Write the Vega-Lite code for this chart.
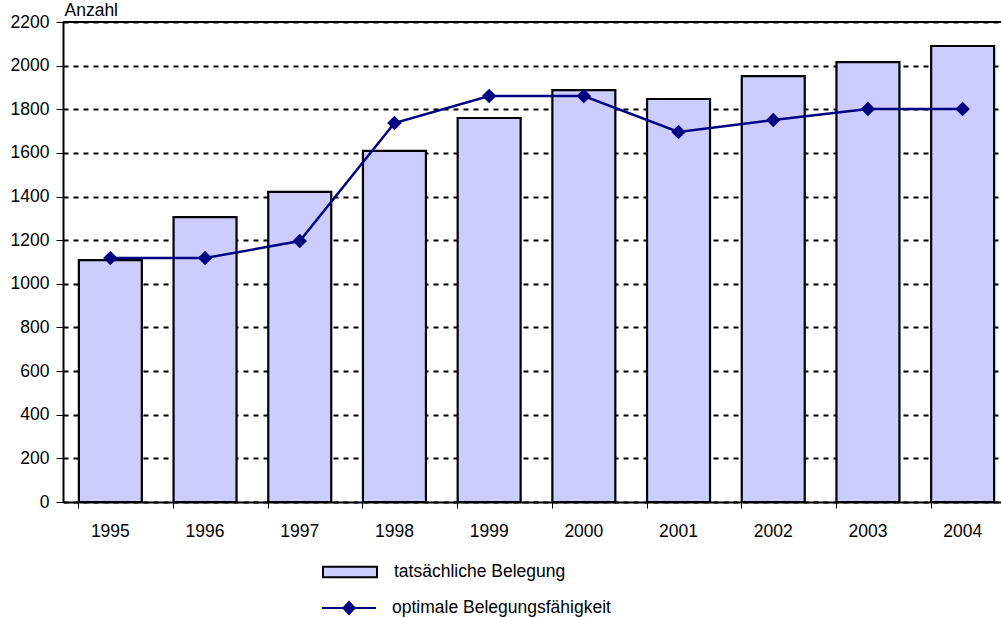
{
  "$schema": "https://vega.github.io/schema/vega-lite/v6.json",
  "autosize": "none",
  "width": 938,
  "height": 480,
  "padding": {"left": 63, "top": 22, "right": 0, "bottom": 116},
  "background": "white",
  "config": {
    "view": {"stroke": null},
    "font": "Liberation Sans",
    "axis": {"labelFont": "Liberation Sans", "titleFont": "Liberation Sans", "labelColor": "black", "titleColor": "black", "labelFontSize": 17.5, "titleFontSize": 17.5, "titleFontWeight": "normal"},
    "legend": {"labelFont": "Liberation Sans", "labelFontSize": 17.5, "labelColor": "black", "padding": 0, "labelLimit": 500}
  },
  "data": {"values": [
    {"jahr": "1995", "belegung": 1109, "optimal": 1118},
    {"jahr": "1996", "belegung": 1306, "optimal": 1118},
    {"jahr": "1997", "belegung": 1421, "optimal": 1196},
    {"jahr": "1998", "belegung": 1609, "optimal": 1737},
    {"jahr": "1999", "belegung": 1760, "optimal": 1861},
    {"jahr": "2000", "belegung": 1888, "optimal": 1861},
    {"jahr": "2001", "belegung": 1847, "optimal": 1696},
    {"jahr": "2002", "belegung": 1952, "optimal": 1751},
    {"jahr": "2003", "belegung": 2016, "optimal": 1801},
    {"jahr": "2004", "belegung": 2090, "optimal": 1801}
  ]},
  "encoding": {
    "x": {"field": "jahr", "type": "nominal", "sort": null,
      "scale": {"range": [0, 947], "paddingInner": 0.335, "paddingOuter": 0.1675},
      "axis": {"title": null, "labelAngle": 0, "bandPosition": 0, "domainColor": "black", "domainWidth": 2, "tickColor": "black", "tickWidth": 1, "tickSize": 6, "labelPadding": 23, "labelBaseline": "middle", "labelFontSize": 17.5, "grid": false}
    }
  },
  "layer": [
    {
      "mark": {"type": "bar", "stroke": "black", "strokeWidth": 2.2},
      "encoding": {
        "y": {"field": "belegung", "type": "quantitative",
          "scale": {"domain": [0, 2200]},
          "axis": {"title": "Anzahl", "titleAngle": 0, "titleX": 1, "titleY": -3, "titleAlign": "left", "titleBaseline": "bottom", "titleFontSize": 17.5,
            "values": [0, 200, 400, 600, 800, 1000, 1200, 1400, 1600, 1800, 2000, 2200], "format": "d", "labelFontSize": 17.5,
            "domainColor": "black", "domainWidth": 2, "tickColor": "black", "tickWidth": 1, "tickSize": 7, "labelPadding": 7,
            "grid": true, "gridColor": "black", "gridWidth": 2, "gridDash": [5, 5]}
        },
        "fill": {"datum": "tatsächliche Belegung", "type": "nominal",
          "scale": {"range": ["#CCCCFF"]},
          "legend": {"title": null, "orient": "none", "legendX": 259, "legendY": 522,
            "symbolType": "M-1,-0.19H1V0.19H-1Z", "symbolSize": 2916, "symbolStrokeColor": "black", "symbolStrokeWidth": 2, "symbolOpacity": 1, "labelOffset": 16, "labelFontSize": 17.5}
        }
      }
    },
    {
      "mark": {"type": "rule", "color": "black", "strokeWidth": 2},
      "encoding": {"y": {"datum": 2200, "type": "quantitative"}, "x": {"value": 0}, "x2": {"value": 938}}
    },
    {
      "mark": {"type": "line", "color": "#000080", "strokeWidth": 2.5},
      "encoding": {"y": {"field": "optimal", "type": "quantitative"}}
    },
    {
      "mark": {"type": "point", "shape": "diamond", "filled": true, "size": 210, "opacity": 1, "color": "#000080"},
      "encoding": {
        "y": {"field": "optimal", "type": "quantitative"},
        "fill": {"datum": "optimale Belegungsfähigkeit", "type": "nominal",
          "scale": {"range": ["#000080"]},
          "legend": {"title": null, "orient": "none", "legendX": 259, "legendY": 559,
            "symbolType": "M-1,-0.035H1V0.035H-1Z M-0.26,0L0,-0.28L0.26,0L0,0.28Z", "symbolSize": 2916, "symbolStrokeWidth": 0, "symbolOpacity": 1, "labelOffset": 16, "labelFontSize": 17.5}
        }
      }
    }
  ],
  "resolve": {"scale": {"fill": "independent"}, "legend": {"fill": "independent"}}
}
